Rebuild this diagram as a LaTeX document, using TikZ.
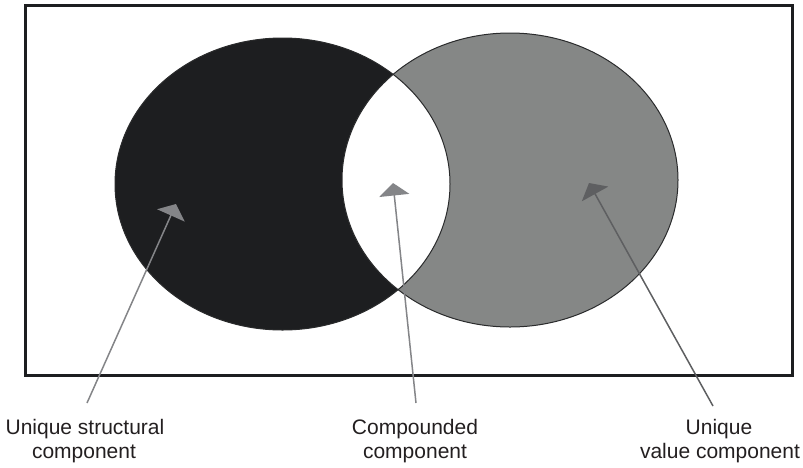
\documentclass[tikz,border=0pt]{standalone}
\usepackage{fontspec}
\setmainfont{Liberation Sans}
\usetikzlibrary{arrows.meta}
\definecolor{blk}{HTML}{1D1E20}
\definecolor{gry}{HTML}{858786}
\definecolor{edge}{HTML}{2A2B2C}
\definecolor{arr}{HTML}{848588}
\definecolor{arrdark}{HTML}{5E5F61}
\definecolor{txt}{HTML}{231F20}
\begin{document}
\begin{tikzpicture}[x=1pt,y=-1pt,
  lbl/.style={font=\fontsize{21}{25}\selectfont, text=txt, anchor=base, inner sep=0pt},
  pointer/.style={draw=arr, line width=1.5pt, -{Triangle[length=12.5pt,width=30pt,fill=arr]}},
  pointerdark/.style={pointer, draw=arrdark, -{Triangle[length=12.5pt,width=30pt,fill=arrdark]}},
  rim/.style={draw=edge, line width=1pt},
  framebox/.style={draw=blk, line width=2.8pt}]
\useasboundingbox (0,0) rectangle (803,467);
% ellipses
\fill[gry] (510,180) ellipse [x radius=168pt, y radius=147pt];
\fill[blk] (282.5,184) ellipse [x radius=167.5pt, y radius=146pt];
\begin{scope}
  \clip (282.5,184) ellipse [x radius=167.5pt, y radius=146pt];
  \fill[white] (510,180) ellipse [x radius=168pt, y radius=147pt];
\end{scope}
\draw[rim] (510,180) ellipse [x radius=168pt, y radius=147pt];
\draw[rim] (282.5,184) ellipse [x radius=167.5pt, y radius=146pt];
% frame
\draw[framebox] (25.3,5.3) rectangle (792.3,375.7);
% pointer ends
\coordinate (tipS) at (176,204);
\coordinate (tipC) at (393,183);
\coordinate (tipV) at (589,183);
\coordinate (endS) at (87,403);
\coordinate (endC) at (416,403);
\coordinate (endV) at (713,406);
\draw[pointer] (endS) -- (tipS);
\draw[pointer] (endC) -- (tipC);
\draw[pointerdark] (endV) -- (tipV);
% labels
\node[lbl] (s1) at (85,434) {Unique structural};
\node[lbl] (s2) at (84,458) {component};
\node[lbl] (c1) at (415,434) {Compounded};
\node[lbl] (c2) at (415,458) {component};
\node[lbl] (v1) at (719,434) {Unique};
\node[lbl] (v2) at (720,458) {value component};
\end{tikzpicture}
\end{document}
